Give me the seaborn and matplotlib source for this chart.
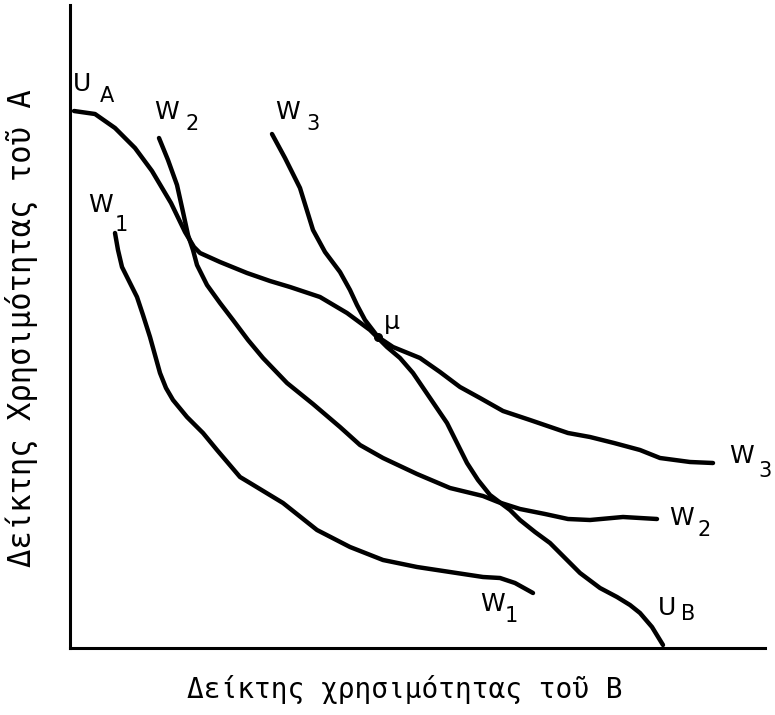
# welfare_frontier.py
# utility possibility frontier U_A-U_B and social welfare curves W1..W3

import pandas as pd
import matplotlib
matplotlib.use("Agg")
import matplotlib.pyplot as plt
import seaborn as sns

sns.set_style("white")
plt.rcParams["font.family"] = ["DejaVu Sans", "DejaVu Sans Mono"]
plt.rcParams["text.color"] = "black"

# --------------------------------------------------
# data (utility index of B on x, utility index of A on y)
# --------------------------------------------------
frontier_x = [4, 25, 45, 65, 82, 101, 115, 124, 130, 150, 177, 200, 220, 250, 277, 300,
              317, 330, 343, 360, 377, 388, 397, 408, 420, 440, 450, 465, 480, 495, 510,
              530, 547, 560, 570, 582, 593]
frontier_y = [537, 534, 520, 500, 477, 445, 416, 401, 395, 386, 375, 367, 361, 351, 335, 318,
              301, 290, 275, 250, 225, 203, 185, 168, 153, 138, 128, 116, 105, 90, 75,
              60, 51, 43, 35, 21, 3]

w1_x = [45, 48, 52, 60, 67, 73, 80, 85, 90, 96, 103, 117, 133, 147, 170, 180, 213, 247,
        280, 313, 347, 380, 413, 430, 445, 463]
w1_y = [415, 398, 381, 365, 351, 333, 311, 293, 275, 260, 248, 231, 215, 198, 171, 165, 145, 118,
        101, 88, 81, 76, 71, 70, 65, 55]

w2_x = [89, 98, 107, 113, 118, 123, 127, 137, 150, 163, 178, 193, 217, 243, 270, 290, 313,
        347, 380, 413, 428, 450, 475, 498, 520, 553, 587]
w2_y = [510, 488, 463, 436, 413, 398, 383, 363, 345, 328, 308, 290, 265, 244, 221, 203, 190,
        174, 160, 152, 146, 139, 134, 129, 128, 131, 129]

w3_x = [202, 215, 230, 243, 255, 270, 280, 287, 295, 308, 323, 350, 370, 390, 410, 433,
        460, 498, 520, 544, 570, 590, 620, 643]
w3_y = [514, 490, 460, 418, 396, 376, 358, 343, 328, 311, 301, 290, 276, 261, 250, 237,
        228, 215, 211, 205, 198, 190, 186, 185]

mu_point = (308, 311)

curves = {
    "UA-UB": (frontier_x, frontier_y),
    "W1": (w1_x, w1_y),
    "W2": (w2_x, w2_y),
    "W3": (w3_x, w3_y),
}

# curve labels: (main letter, subscript, letter pos, subscript pos)
labels = [
    ("U", "A", (12, 564), (37, 552)),
    ("W", "2", (97, 536), (122, 524)),
    ("W", "3", (218, 536), (243, 524)),
    ("W", "1", (31, 443), (51, 423)),
    ("W", "3", (672, 192), (695, 177)),
    ("W", "2", (612, 130), (634, 118)),
    ("W", "1", (423, 44), (441, 32)),
    ("U", "B", (597, 40), (618, 34)),
]

x_title = "Δείκτης χρησιμότητας τοῦ Β"
y_title = "Δείκτης Χρησιμότητας τοῦ Α"

# --------------------------------------------------
# plot
# --------------------------------------------------
fig = plt.figure(figsize=(7.75, 7.15), dpi=100)
ax = fig.add_axes([70 / 775, 67 / 715, 695 / 775, 643 / 715])

for name, (xs, ys) in curves.items():
    df = pd.DataFrame({"x": xs, "y": ys})
    sns.lineplot(data=df, x="x", y="y", sort=False, estimator=None,
                 color="black", linewidth=3.2, ax=ax,
                 solid_joinstyle="round", solid_capstyle="round")

ax.scatter([mu_point[0]], [mu_point[1]], s=30, color="black", zorder=5)
ax.text(mu_point[0] + 14, mu_point[1] + 15, "μ", fontsize=18, ha="center", va="center")

for main, sub, p1, p2 in labels:
    ax.text(p1[0], p1[1], main, fontsize=18, ha="center", va="center")
    ax.text(p2[0], p2[1], sub, fontsize=15, ha="center", va="center")

ax.set_xlim(0, 695)
ax.set_ylim(0, 643)
ax.set_xticks([])
ax.set_yticks([])
ax.set_xlabel("")
ax.set_ylabel("")
sns.despine(ax=ax)
for side in ["left", "bottom"]:
    ax.spines[side].set_linewidth(2.2)
    ax.spines[side].set_color("black")

mono = ["DejaVu Sans Mono", "DejaVu Sans"]
fig.text(405 / 775, 1 - 690 / 715, x_title, fontsize=20, family=mono,
         ha="center", va="center")
fig.text(22 / 775, 1 - 328 / 715, y_title, fontsize=22, family=mono,
         rotation=90, ha="center", va="center")

fig.savefig("out.png", dpi=100)
